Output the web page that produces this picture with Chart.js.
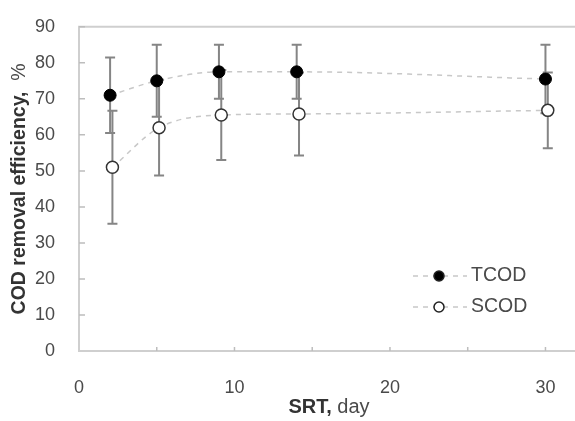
<!DOCTYPE html>
<html lang="en">
<head>
<meta charset="UTF-8">
<title>COD removal efficiency vs SRT</title>
<script src="https://cdn.jsdelivr.net/npm/chart.js"></script>
<style>
    html, body { margin: 0; padding: 0; background: #fff; }
    #wrap { width: 575px; height: 421px; }
</style>
</head>
<body>
<div id="wrap"><canvas id="codChart"></canvas></div>
<script>
    // values
    const srtDays = [2, 5, 9, 14, 30];
    const srtDaysScod = [2.15, 5.15, 9.15, 14.15, 30.15];
    const tcodEff = [71, 75, 77.5, 77.5, 75.5];
    const tcodErr = [10.5, 10, 7.5, 7.5, 9.5];
    const scodEff = [51, 62, 65.5, 65.8, 66.8];
    const scodErr = [15.7, 13.3, 12.5, 11.5, 10.5];
    const xTicks = [0, 10, 20, 30];
    const xMinorTicks = [5, 15, 25];
    const yTicks = [0, 10, 20, 30, 40, 50, 60, 70, 80, 90];

    const FONT = 'Arial, "Liberation Sans", sans-serif';
    const AXIS_GREY = '#cfcfcf';

    // error bars go under the lines and markers
    const errorBars = {
        id: 'errorBars',
        beforeDatasetsDraw(chart) {
            const ctx = chart.ctx;
            const xs = chart.scales.x, ys = chart.scales.y;
            ctx.save();
            ctx.strokeStyle = '#858585';
            ctx.lineWidth = 2;
            chart.data.datasets.forEach(ds => {
                if (!ds.errors) return;
                ds.data.forEach((p, i) => {
                    const e = ds.errors[i];
                    const x = xs.getPixelForValue(p.x);
                    const yTop = ys.getPixelForValue(p.y + e);
                    const yBot = ys.getPixelForValue(p.y - e);
                    ctx.beginPath();
                    ctx.moveTo(x, yTop); ctx.lineTo(x, yBot);
                    ctx.moveTo(x - 5, yTop); ctx.lineTo(x + 5, yTop);
                    ctx.moveTo(x - 5, yBot); ctx.lineTo(x + 5, yBot);
                    ctx.stroke();
                });
            });
            ctx.restore();
        }
    };

    // frame, inward ticks, axis titles and the legend
    const decorations = {
        id: 'decorations',
        afterDraw(chart) {
            const ctx = chart.ctx;
            const a = chart.chartArea;
            const xs = chart.scales.x, ys = chart.scales.y;
            ctx.save();

            // top border
            ctx.strokeStyle = AXIS_GREY;
            ctx.lineWidth = 2;
            ctx.beginPath();
            ctx.moveTo(a.left - 1, a.top); ctx.lineTo(a.right, a.top);
            ctx.stroke();

            // inward tick marks
            ctx.strokeStyle = '#bdbdbd';
            ctx.lineWidth = 1.5;
            ctx.beginPath();
            yTicks.forEach(v => {
                if (v === 0) return;
                const y = ys.getPixelForValue(v);
                ctx.moveTo(a.left, y); ctx.lineTo(a.left + 6, y);
            });
            xTicks.concat(xMinorTicks).forEach(v => {
                if (v === 0) return;
                const x = xs.getPixelForValue(v);
                ctx.moveTo(x, a.bottom); ctx.lineTo(x, a.bottom - 4);
            });
            ctx.stroke();

            // axis titles: bold part + plain part
            function mixedTitle(bold, plain, cx, cy, rotate, size) {
                ctx.save();
                ctx.translate(cx, cy);
                if (rotate) ctx.rotate(-Math.PI / 2);
                ctx.textBaseline = 'middle';
                ctx.font = 'bold ' + size + 'px ' + FONT;
                const w1 = ctx.measureText(bold).width;
                ctx.font = size + 'px ' + FONT;
                const w2 = ctx.measureText(plain).width;
                let x0 = -(w1 + w2) / 2;
                ctx.font = 'bold ' + size + 'px ' + FONT;
                ctx.fillStyle = '#333';
                ctx.fillText(bold, x0, 0);
                ctx.font = size + 'px ' + FONT;
                ctx.fillStyle = '#4a4a4a';
                ctx.fillText(plain, x0 + w1, 0);
                ctx.restore();
            }
            mixedTitle('COD removal efficiency,', '  %', 20, (a.top + a.bottom) / 2, true, 19.5);
            mixedTitle('SRT,', ' day', (a.left + a.right) / 2 + 2, 407, false, 20);

            // legend
            const items = [
                { label: 'TCOD', fill: '#000', y: a.bottom - 75 },
                { label: 'SCOD', fill: '#fff', y: a.bottom - 44 }
            ];
            items.forEach(it => {
                ctx.strokeStyle = '#c8c8c8';
                ctx.lineWidth = 1.5;
                ctx.setLineDash([5, 5]);
                ctx.beginPath();
                ctx.moveTo(a.right - 162, it.y); ctx.lineTo(a.right - 108, it.y);
                ctx.stroke();
                ctx.setLineDash([]);
                ctx.beginPath();
                ctx.arc(a.right - 136, it.y, 5, 0, Math.PI * 2);
                ctx.fillStyle = it.fill;
                ctx.fill();
                ctx.strokeStyle = '#222';
                ctx.lineWidth = 1.5;
                ctx.stroke();
                ctx.fillStyle = '#4a4a4a';
                ctx.font = '19.5px ' + FONT;
                ctx.textBaseline = 'middle';
                ctx.fillText(it.label, a.right - 104, it.y);
            });
            ctx.restore();
        }
    };

    const ctx = document.getElementById('codChart').getContext('2d');
    new Chart(ctx, {
        type: 'scatter',
        data: {
            datasets: [{
                label: 'TCOD',
                data: srtDays.map((x, i) => ({ x: x, y: tcodEff[i] })),
                errors: tcodErr,
                showLine: true,
                cubicInterpolationMode: 'monotone',
                borderColor: '#c8c8c8',
                borderWidth: 1.5,
                borderDash: [5, 5],
                pointRadius: 6,
                pointBackgroundColor: '#000',
                pointBorderColor: '#000',
                pointBorderWidth: 1
            }, {
                label: 'SCOD',
                data: srtDaysScod.map((x, i) => ({ x: x, y: scodEff[i] })),
                errors: scodErr,
                showLine: true,
                cubicInterpolationMode: 'monotone',
                borderColor: '#c8c8c8',
                borderWidth: 1.5,
                borderDash: [5, 5],
                pointRadius: 6,
                pointBackgroundColor: '#fff',
                pointBorderColor: '#333',
                pointBorderWidth: 1.5
            }]
        },
        options: {
            responsive: true,
            maintainAspectRatio: false,
            animation: false,
            layout: { autoPadding: false, padding: { top: 15, right: 0, left: 0, bottom: 0 } },
            plugins: {
                legend: { display: false },
                tooltip: { enabled: false }
            },
            scales: {
                x: {
                    type: 'linear',
                    min: 0,
                    max: 31.9,
                    afterBuildTicks: s => { s.ticks = xTicks.map(v => ({ value: v })); },
                    afterFit: s => { s.height = 70; },
                    grid: { display: false },
                    border: { display: true, color: AXIS_GREY, width: 2 },
                    ticks: {
                        color: '#4a4a4a',
                        font: { family: FONT, size: 18 },
                        padding: 18,
                        maxRotation: 0
                    }
                },
                y: {
                    min: 0,
                    max: 90,
                    afterBuildTicks: s => { s.ticks = yTicks.map(v => ({ value: v })); },
                    afterFit: s => { s.width = 79; },
                    grid: { display: false },
                    border: { display: true, color: AXIS_GREY, width: 2 },
                    ticks: {
                        color: '#4a4a4a',
                        font: { family: FONT, size: 18 },
                        padding: 16
                    }
                }
            }
        },
        plugins: [errorBars, decorations]
    });
</script>
</body>
</html>
